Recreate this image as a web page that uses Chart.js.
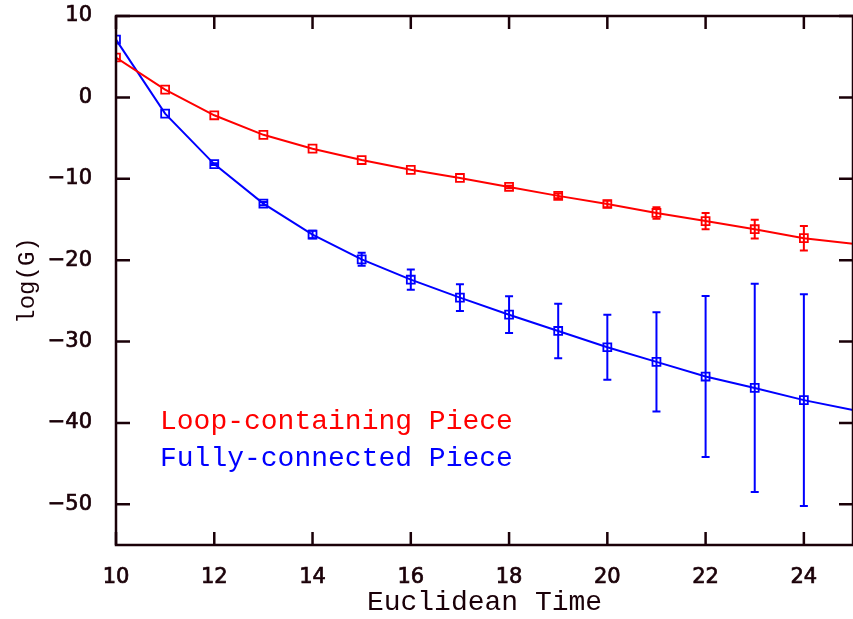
<!DOCTYPE html>
<html>
<head>
<meta charset="utf-8">
<script src="https://cdn.jsdelivr.net/npm/chart.js@4"></script>
<style>
  html, body { margin: 0; padding: 0; background: #fff; }
  #wrap { width: 853px; height: 619px; }
</style>
</head>
<body>
<div id="wrap"><canvas id="chart" width="853" height="619"></canvas></div>
<script>
// euclidean time slices
const times = [10, 11, 12, 13, 14, 15, 16, 17, 18, 19, 20, 21, 22, 23, 24];

// log(G) for the loop-containing piece
const loopVals = [4.9, 0.95, -2.2, -4.6, -6.3, -7.7, -8.9, -9.9, -11.0, -12.1, -13.1, -14.2, -15.2, -16.2, -17.3];
const loopErr  = [0, 0, 0, 0, 0, 0, 0, 0, 0.15, 0.3, 0.4, 0.7, 1.0, 1.15, 1.5];

// log(G) for the fully-connected piece
const fullVals = [7.1, -2.0, -8.2, -13.05, -16.85, -19.9, -22.4, -24.6, -26.7, -28.7, -30.7, -32.5, -34.3, -35.7, -37.2];
const fullErr  = [0, 0, 0.1, 0.2, 0.45, 0.8, 1.25, 1.65, 2.25, 3.35, 4.0, 6.1, 9.9, 12.8, 13.0];

// where the fit curves end on the right edge
const fitEndTime = 25;
const loopFitEnd = -18.0;
const fullFitEnd = -38.4;

const xTicks = [10, 12, 14, 16, 18, 20, 22, 24];
const yTicks = [10, 0, -10, -20, -30, -40, -50];
const legendLabels = ['Loop-containing Piece', 'Fully-connected Piece'];

const RED = '#ff0000';
const BLUE = '#0000ff';
const INK = '#1a0008';

const pts = (vals) => times.map((t, i) => ({ x: t, y: vals[i] }));
const fit = (vals, end) => pts(vals).concat([{ x: fitEndTime, y: end }]);
const minus = (v) => String(v).replace('-', '\u2212');

// error bars go under the markers
const errorBars = {
  id: 'errorBars',
  beforeDatasetsDraw(chart) {
    const { ctx, scales: { x, y } } = chart;
    chart.data.datasets.forEach(ds => {
      if (!ds.errors) return;
      ctx.save();
      ctx.strokeStyle = ds.borderColor;
      ctx.lineWidth = 2;
      ds.data.forEach((p, i) => {
        const e = ds.errors[i];
        if (!e) return;
        const px = x.getPixelForValue(p.x);
        const top = y.getPixelForValue(p.y + e);
        const bot = y.getPixelForValue(p.y - e);
        ctx.beginPath();
        ctx.moveTo(px, top); ctx.lineTo(px, bot);
        ctx.moveTo(px - 4, top); ctx.lineTo(px + 4, top);
        ctx.moveTo(px - 4, bot); ctx.lineTo(px + 4, bot);
        ctx.stroke();
      });
      ctx.restore();
    });
  }
};

// box with inward ticks on all four sides
const frame = {
  id: 'frame',
  afterDraw(chart) {
    const { ctx, chartArea: a, scales: { x, y } } = chart;
    ctx.save();
    ctx.strokeStyle = INK;
    ctx.lineWidth = 2.5;
    ctx.beginPath();
    ctx.rect(a.left, a.top, a.right - a.left, a.bottom - a.top);
    ctx.stroke();
    ctx.beginPath();
    xTicks.forEach(v => {
      const px = x.getPixelForValue(v);
      ctx.moveTo(px, a.bottom); ctx.lineTo(px, a.bottom - 13);
      ctx.moveTo(px, a.top); ctx.lineTo(px, a.top + 13);
    });
    yTicks.forEach(v => {
      const py = y.getPixelForValue(v);
      ctx.moveTo(a.left, py); ctx.lineTo(a.left + 14, py);
      ctx.moveTo(a.right, py); ctx.lineTo(a.right - 14, py);
    });
    ctx.stroke();
    ctx.restore();
  }
};

// text legend inside the plot
const legendText = {
  id: 'legendText',
  afterDraw(chart) {
    const { ctx } = chart;
    ctx.save();
    ctx.font = '28px "Liberation Mono"';
    ctx.textBaseline = 'alphabetic';
    ctx.fillStyle = RED;
    ctx.fillText(legendLabels[0], 160, 429);
    ctx.fillStyle = BLUE;
    ctx.fillText(legendLabels[1], 160, 466);
    ctx.restore();
  }
};

new Chart(document.getElementById('chart'), {
  type: 'scatter',
  data: {
    datasets: [
      {
        data: fit(loopVals, loopFitEnd),
        showLine: true, borderColor: RED, borderWidth: 2,
        pointRadius: 0, tension: 0
      },
      {
        data: fit(fullVals, fullFitEnd),
        showLine: true, borderColor: BLUE, borderWidth: 2,
        pointRadius: 0, tension: 0
      },
      {
        data: pts(loopVals), errors: loopErr,
        borderColor: RED, backgroundColor: 'rgba(0,0,0,0)',
        pointStyle: 'rect', pointRadius: 5.6, pointBorderWidth: 1.8
      },
      {
        data: pts(fullVals), errors: fullErr,
        borderColor: BLUE, backgroundColor: 'rgba(0,0,0,0)',
        pointStyle: 'rect', pointRadius: 5.6, pointBorderWidth: 1.8
      }
    ]
  },
  options: {
    responsive: false,
    animation: false,
    devicePixelRatio: 1,
    layout: { autoPadding: false, padding: { top: 16, right: 0, left: 0, bottom: 0 } },
    plugins: { legend: { display: false }, tooltip: { enabled: false } },
    scales: {
      x: {
        type: 'linear', min: 10, max: 25,
        afterBuildTicks: s => { s.ticks = xTicks.map(v => ({ value: v })); },
        afterFit: s => { s.height = 74; s.paddingLeft = 0; s.paddingRight = 0; },
        grid: { display: false, drawTicks: false },
        border: { display: false },
        ticks: {
          autoSkip: false, maxRotation: 0, padding: 20, color: INK,
          textStrokeColor: INK, textStrokeWidth: 0.7,
          font: { family: 'DejaVu Sans', size: 21 },
          callback: minus
        },
        title: {
          display: true, text: 'Euclidean Time', color: INK,
          font: { family: 'Liberation Mono', size: 28 },
          padding: { top: 0, bottom: 0 }
        }
      },
      y: {
        type: 'linear', min: -55, max: 10,
        afterBuildTicks: s => { s.ticks = yTicks.map(v => ({ value: v })); },
        afterFit: s => { s.width = 116; s.paddingTop = 0; s.paddingBottom = 0; },
        grid: { display: false, drawTicks: false },
        border: { display: false },
        ticks: {
          autoSkip: false, padding: 24, color: INK,
          textStrokeColor: INK, textStrokeWidth: 0.7,
          font: { family: 'DejaVu Sans', size: 21 },
          callback: minus
        },
        title: {
          display: true, text: 'log(G)', color: INK,
          font: { family: 'Liberation Mono', size: 24 },
          padding: { top: 13, bottom: 0 }
        }
      }
    }
  },
  plugins: [errorBars, frame, legendText]
});
</script>
</body>
</html>
